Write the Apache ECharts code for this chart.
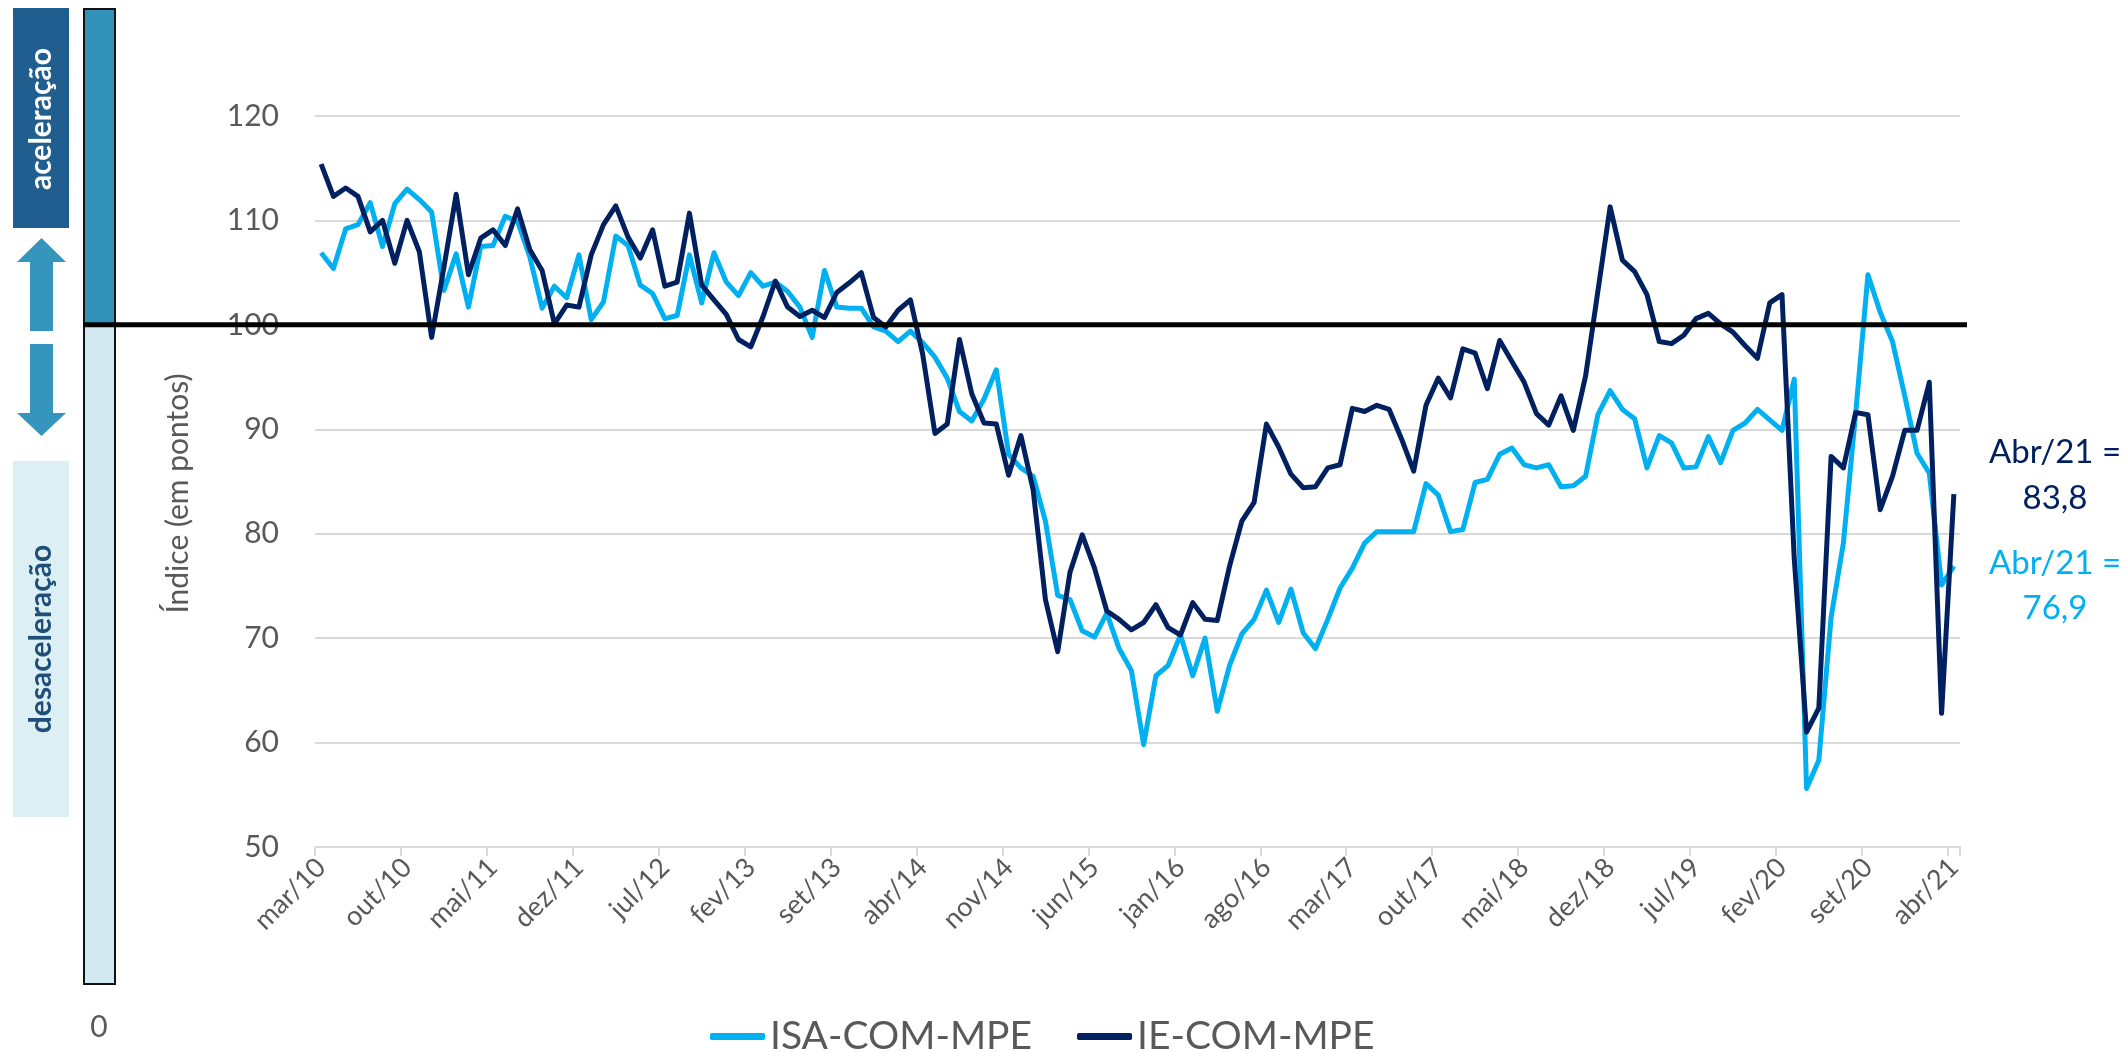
<!DOCTYPE html>
<html>
<head>
<meta charset="utf-8">
<script src="https://cdn.jsdelivr.net/npm/echarts@6/dist/echarts.min.js"></script>
<style>
html,body{margin:0;padding:0;background:#fff;}
#c{width:2126px;height:1052px;}
</style>
</head>
<body>
<div id="c"></div>
<script>
// ---- data ----
const monthNames = ['jan','fev','mar','abr','mai','jun','jul','ago','set','out','nov','dez'];
const startYear = 2010, startMonth = 2, nMonths = 134; // mar/10 .. abr/21
const categories = [];
for (let k = 0; k < nMonths; k++) {
  const m = (startMonth + k) % 12;
  const y = startYear + Math.floor((startMonth + k) / 12);
  categories.push(monthNames[m] + '/' + String(y % 100).padStart(2, '0'));
}

const isaComMpe = [
  106.9,105.4,109.2,109.6,111.7,107.5,111.6,113.0,112.0,110.8,
  103.3,106.8,101.7,107.5,107.6,110.4,109.9,106.5,101.6,103.7,
  102.6,106.7,100.5,102.2,108.5,107.6,103.8,103.0,100.6,100.9,
  106.7,102.1,106.9,104.1,102.8,105.0,103.7,104.1,103.2,101.7,
  98.8,105.2,101.7,101.6,101.6,99.8,99.4,98.4,99.4,98.3,
  96.9,94.9,91.7,90.8,92.9,95.7,87.6,86.3,85.5,81.2,
  74.1,73.7,70.7,70.1,72.4,69.0,66.9,59.8,66.4,67.4,
  70.3,66.4,70.0,63.0,67.4,70.4,71.8,74.6,71.5,74.7,
  70.5,69.0,71.8,74.8,76.7,79.1,80.2,80.2,80.2,80.2,
  84.8,83.7,80.2,80.4,84.9,85.2,87.6,88.2,86.6,86.3,
  86.6,84.5,84.6,85.5,91.4,93.7,91.9,91.0,86.3,89.4,
  88.7,86.3,86.4,89.3,86.8,89.9,90.6,91.9,90.9,89.9,
  94.8,55.6,58.3,72.0,79.1,91.5,104.8,101.2,98.4,93.2,
  87.7,85.8,75.1,76.9
];
const ieComMpe = [
  115.4,112.3,113.1,112.3,108.9,110.0,105.9,110.0,107.0,98.8,
  105.5,112.5,104.8,108.3,109.1,107.6,111.1,107.2,105.2,100.1,
  101.9,101.7,106.7,109.6,111.4,108.4,106.4,109.1,103.7,104.1,
  110.7,103.8,102.4,101.0,98.6,97.9,100.8,104.2,101.7,100.8,
  101.4,100.7,103.1,104.0,105.0,100.7,99.8,101.4,102.4,97.2,
  89.6,90.5,98.6,93.4,90.6,90.5,85.6,89.4,84.2,73.7,
  68.7,76.3,79.9,76.7,72.6,71.8,70.8,71.5,73.2,71.0,
  70.3,73.4,71.8,71.7,76.9,81.2,83.0,90.5,88.3,85.7,
  84.4,84.5,86.3,86.6,92.0,91.7,92.3,91.9,89.1,86.0,
  92.3,94.9,93.0,97.7,97.3,93.9,98.5,96.5,94.5,91.5,
  90.4,93.2,89.9,95.1,103.2,111.3,106.2,105.1,102.9,98.4,
  98.2,99.0,100.6,101.1,100.1,99.3,98.0,96.8,102.1,102.9,
  77.6,61.0,63.3,87.4,86.3,91.6,91.4,82.3,85.5,89.9,
  89.9,94.5,62.8,83.8
];
const seriesNames = ['ISA-COM-MPE', 'IE-COM-MPE'];
const seriesColors = ['#00B0F0', '#002060'];
const refLevel = 100;
const yMin = 50, yMax = 120, yStep = 10;
const endLabels = ['Abr/21 =', '83,8', 'Abr/21 =', '76,9'];

// ---- chart ----
const FONT = 'Lato, "Open Sans", sans-serif';
const GRAY = '#595959';
const chart = echarts.init(document.getElementById('c'), null, {renderer: 'canvas'});

const option = {
  backgroundColor: '#ffffff',
  animation: false,
  textStyle: {fontFamily: FONT},
  grid: {left: 315, right: 166, top: 116, bottom: 205, containLabel: false},
  legend: {
    data: seriesNames.map((n) => ({name: n, icon: 'roundRect'})),
    left: 705,
    top: 1012,
    itemWidth: 55,
    itemHeight: 7,
    itemGap: 45,
    textStyle: {color: GRAY, fontSize: 39, fontFamily: FONT}
  },
  xAxis: {
    type: 'category',
    data: categories,
    boundaryGap: true,
    axisLine: {show: true, lineStyle: {color: '#D9D9D9', width: 2}},
    axisTick: {show: true, interval: 6, length: 9, lineStyle: {color: '#D9D9D9', width: 2}},
    axisLabel: {interval: 6, rotate: 45, margin: 16, color: GRAY, fontSize: 27, fontFamily: FONT},
    splitLine: {show: false}
  },
  yAxis: {
    type: 'value',
    min: yMin, max: yMax, interval: yStep,
    name: 'Índice (em pontos)',
    nameLocation: 'middle',
    nameGap: 122,
    nameTextStyle: {color: GRAY, fontSize: 30, fontFamily: FONT, padding: [0, 0, 0, -24]},
    axisLine: {show: false},
    axisTick: {show: false},
    axisLabel: {color: GRAY, fontSize: 30, margin: 36, fontFamily: FONT},
    splitLine: {show: true, lineStyle: {color: '#D9D9D9', width: 2}}
  },
  series: [
    {name: seriesNames[0], type: 'line', data: isaComMpe, symbol: 'none', color: seriesColors[0],
     lineStyle: {width: 5, color: seriesColors[0], join: 'round'}, z: 2},
    {name: seriesNames[1], type: 'line', data: ieComMpe, symbol: 'none', color: seriesColors[1],
     lineStyle: {width: 5, color: seriesColors[1], join: 'round'}, z: 3}
  ]
};
chart.setOption(option);

// decorations positioned from the chart's own scale
const y100 = chart.convertToPixel({yAxisIndex: 0}, refLevel);
const gridRight = 2126 - 166;

const graphics = [
  // left indicator bar
  {type: 'rect', shape: {x: 84, y: 9, width: 31, height: y100 - 9}, style: {fill: '#3192B9'}, z: 10},
  {type: 'rect', shape: {x: 84, y: y100, width: 31, height: 984 - y100}, style: {fill: '#D3E9F1'}, z: 10},
  {type: 'rect', shape: {x: 84, y: 9, width: 31, height: 975}, style: {fill: 'none', stroke: '#111', lineWidth: 2}, z: 11},
  {type: 'text', style: {text: '0', x: 99, y: 1027, textAlign: 'center', textVerticalAlign: 'middle', fill: GRAY, font: '30px ' + FONT}, z: 11},
  // aceleração box
  {type: 'rect', shape: {x: 13, y: 8, width: 56, height: 220}, style: {fill: '#1F5E8E'}, z: 10},
  {type: 'text', x: 41, y: 119, rotation: Math.PI / 2,
   style: {text: 'aceleração', x: 0, y: 0, textAlign: 'center', textVerticalAlign: 'middle', fill: '#ffffff', font: 'bold 30px ' + FONT}, z: 11},
  // arrows
  {type: 'polygon', shape: {points: [[17, 262], [41.5, 238], [66, 262], [53, 262], [53, 331], [30, 331], [30, 262]]}, style: {fill: '#3595BD'}, z: 10},
  {type: 'polygon', shape: {points: [[30, 344], [53, 344], [53, 413], [66, 413], [41.5, 436], [17, 413], [30, 413]]}, style: {fill: '#3595BD'}, z: 10},
  // desaceleração box
  {type: 'rect', shape: {x: 13, y: 461, width: 56, height: 356}, style: {fill: '#DCEFF4'}, z: 10},
  {type: 'text', x: 41, y: 639, rotation: Math.PI / 2,
   style: {text: 'desaceleração', x: 0, y: 0, textAlign: 'center', textVerticalAlign: 'middle', fill: '#1F4E79', font: 'bold 30px ' + FONT}, z: 11},
  // reference line at 100
  {type: 'line', shape: {x1: 83, y1: y100, x2: gridRight + 7, y2: y100}, style: {stroke: '#000000', lineWidth: 5}, z: 20},
  // end annotations
  {type: 'text', style: {text: endLabels[0], x: 2055, y: 452, textAlign: 'center', textVerticalAlign: 'middle', fill: seriesColors[1], font: '33px ' + FONT}, z: 11},
  {type: 'text', style: {text: endLabels[1], x: 2055, y: 498, textAlign: 'center', textVerticalAlign: 'middle', fill: seriesColors[1], font: '33px ' + FONT}, z: 11},
  {type: 'text', style: {text: endLabels[2], x: 2055, y: 563, textAlign: 'center', textVerticalAlign: 'middle', fill: seriesColors[0], font: '33px ' + FONT}, z: 11},
  {type: 'text', style: {text: endLabels[3], x: 2055, y: 608, textAlign: 'center', textVerticalAlign: 'middle', fill: seriesColors[0], font: '33px ' + FONT}, z: 11}
];
chart.setOption({graphic: graphics});
</script>
</body>
</html>
